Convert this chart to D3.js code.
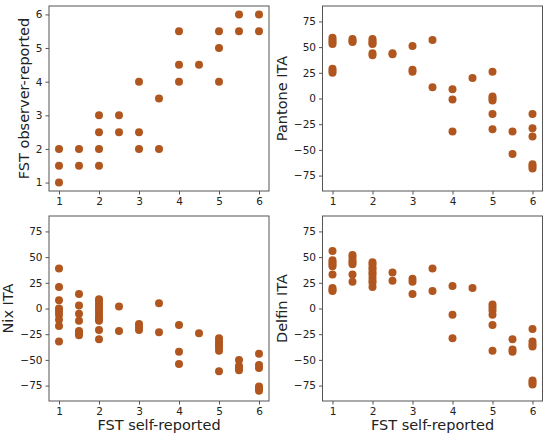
<!DOCTYPE html>
<html lang="en">
<meta charset="utf-8">
<title>FST vs ITA</title>
<style>
    body { margin: 0; background: white; }
    svg text { font-family: "DejaVu Sans", sans-serif; fill: #222; }
</style>
<body>
<svg id="canvas"></svg>
<script src="https://cdn.jsdelivr.net/npm/d3@7/dist/d3.min.js"></script>
<script>

    /////////////////// Data ///////////////////
    // self-reported FST for each point group, followed by the value lists
    var observer_x = [1, 1, 1, 1.5, 1.5, 2, 2, 2, 2, 2.5, 2.5, 3, 3, 3, 3.5, 3.5,
                      4, 4, 4, 4.5, 5, 5, 5, 5.5, 5.5, 6, 6];
    var observer_y = [2, 1.5, 1, 2, 1.5, 3, 2.5, 2, 1.5, 3, 2.5, 4, 2.5, 2, 3.5, 2,
                      5.5, 4.5, 4, 4.5, 5.5, 5, 4, 6, 5.5, 6, 5.5];

    var pantone_x = [1, 1, 1, 1, 1, 1, 1, 1.5, 1.5, 1.5, 2, 2, 2, 2, 2, 2, 2.5, 2.5,
                     3, 3, 3, 3.5, 3.5, 4, 4, 4, 4.5, 5, 5, 5, 5, 5, 5, 5.5, 5.5,
                     6, 6, 6, 6, 6, 6];
    var pantone_y = [59, 57, 55, 53, 29, 27, 25, 58, 56, 55, 58, 56, 54, 53, 44, 42, 44, 43,
                     51, 28, 26, 57, 11, 9, -1, -32, 20, 26, 2, 0, -2, -15, -30, -32, -54,
                     -15, -29, -37, -64, -66, -68];

    var nix_x = [1, 1, 1, 1, 1, 1, 1, 1, 1, 1.5, 1.5, 1.5, 1.5, 1.5, 1.5, 1.5,
                 2, 2, 2, 2, 2, 2, 2, 2, 2, 2, 2, 2.5, 2.5, 3, 3, 3, 3.5, 3.5,
                 4, 4, 4, 4.5, 5, 5, 5, 5, 5, 5, 5.5, 5.5, 5.5, 5.5, 6, 6, 6, 6, 6, 6];
    var nix_y = [39, 21, 8, 0, -3, -6, -11, -17, -32, 14, 3, -5, -12, -22, -24, -26,
                 9, 7, 4, 1, -2, -5, -8, -10, -12, -21, -30, 2, -22, -15, -18, -21, 5, -23,
                 -16, -42, -54, -24, -29, -32, -35, -38, -41, -61, -50, -56, -58, -60,
                 -44, -55, -58, -76, -78, -80];

    var delfin_x = [1, 1, 1, 1, 1, 1, 1, 1, 1, 1.5, 1.5, 1.5, 1.5, 1.5, 1.5, 1.5,
                    2, 2, 2, 2, 2, 2, 2, 2, 2, 2, 2.5, 2.5, 3, 3, 3, 3.5, 3.5,
                    4, 4, 4, 4.5, 5, 5, 5, 5, 5, 5, 5.5, 5.5, 5.5, 6, 6, 6, 6, 6, 6, 6];
    var delfin_y = [56, 47, 45, 43, 41, 33, 20, 18, 17, 52, 50, 47, 45, 43, 33, 26,
                    45, 43, 40, 38, 35, 33, 30, 27, 25, 21, 35, 27, 29, 26, 14, 39, 17,
                    22, -6, -29, 20, 4, 1, -2, -6, -16, -41, -30, -40, -42,
                    -20, -32, -35, -37, -70, -72, -74];

    var x_ticks   = [1, 2, 3, 4, 5, 6];
    var fst_ticks = [1, 2, 3, 4, 5, 6];
    var ita_ticks = [-75, -50, -25, 0, 25, 50, 75];
    var y_labels  = ["FST observer-reported", "Pantone ITA", "Nix ITA", "Delfin ITA"];
    var x_label   = "FST self-reported";
    ////////////////////////////////////////////

    ///////// Position and Dimension Variables ////////
    var dimensions = [550, 438];
    var col_x      = [49, 322.5];
    var row_y      = [6, 216];
    var P_width    = 220;
    var P_height   = 185;
    ///////////////////////////////////////////////////

    ///////////////// Style Variables /////////////////
    var dot_color    = '#b0561e';
    var frame_color  = '#555';
    var dot_radius   = 4;
    var tick_size    = 10.5;
    var label_size   = 14.5;
    ///////////////////////////////////////////////////

    var canvas = d3.select("#canvas")
        .attr('width',  dimensions[0])
        .attr('height', dimensions[1]);

    var panels = [
        { xs: observer_x, ys: observer_y, ydom: [0.75, 6.25], yt: fst_ticks, col: 0, row: 0 },
        { xs: pantone_x,  ys: pantone_y,  ydom: [-90, 90],    yt: ita_ticks, col: 1, row: 0 },
        { xs: nix_x,      ys: nix_y,      ydom: [-90, 90],    yt: ita_ticks, col: 0, row: 1 },
        { xs: delfin_x,   ys: delfin_y,   ydom: [-90, 90],    yt: ita_ticks, col: 1, row: 1 }
    ];

    panels.forEach(function (p, i) {
        var g = canvas.append('g')
            .attr('transform', 'translate(' + col_x[p.col] + ',' + row_y[p.row] + ')');

        var x = d3.scaleLinear().domain([0.75, 6.25]).range([0, P_width]);
        var y = d3.scaleLinear().domain(p.ydom).range([P_height, 0]);

        // points
        g.selectAll('circle')
            .data(p.xs)
            .enter().append('circle')
            .attr('cx', function (d) { return x(d); })
            .attr('cy', function (d, j) { return y(p.ys[j]); })
            .attr('r', dot_radius)
            .attr('fill', dot_color);

        // axes
        var xa = g.append('g')
            .attr('transform', 'translate(0,' + P_height + ')')
            .call(d3.axisBottom(x).tickValues(x_ticks).tickSize(3.5).tickPadding(3)
                    .tickFormat(d3.format('d')));
        var ya = g.append('g')
            .call(d3.axisLeft(y).tickValues(p.yt).tickSize(3.5).tickPadding(3)
                    .tickFormat(function (d) { return d < 0 ? '\u2212' + (-d) : d; }));
        [xa, ya].forEach(function (a) {
            a.select('.domain').remove();
            a.selectAll('line').attr('stroke', frame_color);
            a.selectAll('text')
                .attr('font-size', tick_size)
                .attr('font-family', '"DejaVu Sans", sans-serif')
                .attr('fill', '#222');
        });

        // frame
        g.append('rect')
            .attr('width',  P_width)
            .attr('height', P_height)
            .attr('fill', 'none')
            .attr('stroke', frame_color)
            .attr('stroke-width', 1);

        // y label, placed left of the widest tick label
        var min_x = 0;
        ya.selectAll('text').each(function () {
            min_x = Math.min(min_x, this.getBBox().x);
        });
        g.append('text')
            .attr('transform', 'translate(' + (min_x - 7) + ',' + (P_height / 2) + ') rotate(-90)')
            .attr('text-anchor', 'middle')
            .attr('font-size', label_size)
            .text(y_labels[i]);

        // x label only on bottom row
        if (p.row === 1) {
            g.append('text')
                .attr('x', P_width / 2)
                .attr('y', P_height + 29)
                .attr('text-anchor', 'middle')
                .attr('font-size', label_size)
                .text(x_label);
        }
    });

</script>
</body>
</html>
